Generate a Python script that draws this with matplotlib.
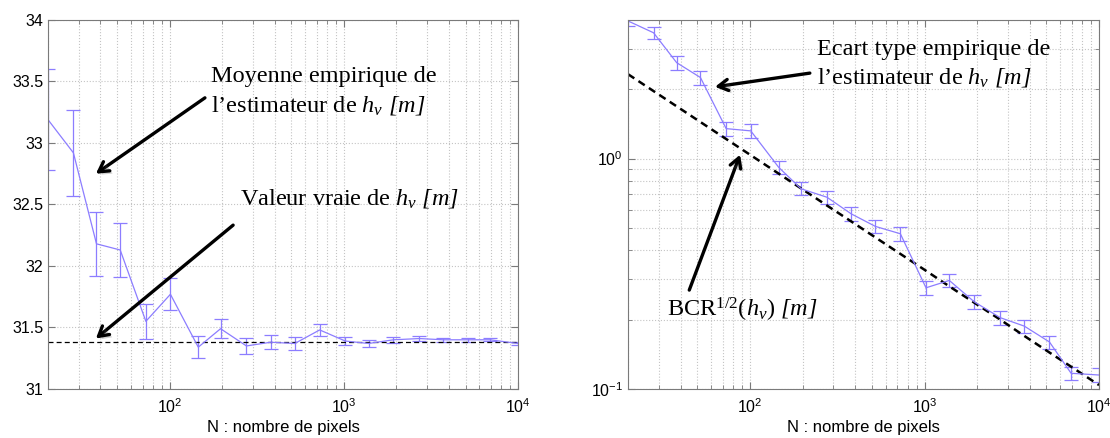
import matplotlib
matplotlib.use("Agg")
import numpy as np
from matplotlib import pyplot as plt
import matplotlib.patheffects as pe
from matplotlib.ticker import NullFormatter

# nombre de pixels (abscisse commune)
n_pixels = [20, 28, 38, 52, 73, 101, 146, 196, 276, 380, 523, 727, 1020,
            1387, 1928, 2717, 3730, 5200, 6920, 10000]

# moyenne empirique de l'estimateur de h_v et barres d'erreur
hv_mean = [33.19, 32.92, 32.18, 32.13, 31.55, 31.77, 31.34, 31.49, 31.35,
           31.38, 31.37, 31.48, 31.39, 31.37, 31.40, 31.41, 31.40, 31.40,
           31.40, 31.37]
hv_err = [0.41, 0.35, 0.26, 0.22, 0.14, 0.13, 0.09, 0.075, 0.065, 0.055,
          0.05, 0.05, 0.03, 0.03, 0.025, 0.02, 0.015, 0.015, 0.012, 0.01]
hv_true = 31.38

# ecart type empirique et BCR^(1/2)
hv_std = [3.96, 3.52, 2.61, 2.25, 1.35, 1.32, 0.917, 0.74, 0.68, 0.576,
          0.508, 0.472, 0.275, 0.296, 0.239, 0.204, 0.1875, 0.160, 0.117,
          0.115]
hv_std_err = [0.2, 0.22, 0.19, 0.16, 0.09, 0.09, 0.057, 0.048, 0.045, 0.04,
              0.034, 0.031, 0.019, 0.02, 0.016, 0.0135, 0.0125, 0.0105,
              0.008, 0.008]
bcr_sqrt = [2.326, 1.965, 1.687, 1.442, 1.217, 1.035, 0.861, 0.743, 0.626,
            0.534, 0.455, 0.386, 0.326, 0.279, 0.237, 0.200, 0.170, 0.144,
            0.125, 0.104]

left_yticks = [31, 31.5, 32, 32.5, 33, 33.5, 34]
left_yticklabels = ["31", "31.5", "32", "32.5", "33", "33.5", "34"]

plt.rcParams['font.family'] = ['Liberation Sans', 'DejaVu Sans']
plt.rcParams['mathtext.fontset'] = 'custom'
plt.rcParams['mathtext.rm'] = 'Liberation Serif'
plt.rcParams['mathtext.it'] = 'Liberation Serif:italic'
# sf sert ici pour avoir les crochets penches de [m]
plt.rcParams['mathtext.sf'] = 'Liberation Serif:italic'

col = '#8c7dff'
grid_kw = dict(color='#c4c4c4', linestyle=':', linewidth=0.8)
serif = dict(family='Liberation Serif', fontsize=17.5)

fig = plt.figure(figsize=(11.1, 4.38), dpi=100)
ax1 = fig.add_axes([0.0432, 0.1119, 0.4234, 0.8425])
ax2 = fig.add_axes([0.5658, 0.1119, 0.4243, 0.8425])

# --- gauche : moyenne ---
ax1.errorbar(n_pixels, hv_mean, yerr=hv_err, color=col, ecolor=col,
             lw=0.9, elinewidth=0.9, capsize=4.7, capthick=0.9)
ax1.axhline(hv_true, color='k', lw=0.9, ls=(0, (4, 2.5)))
ax1.set_xscale('log')
ax1.set_xlim(20, 1e4)
ax1.set_ylim(31, 34)
ax1.set_yticks(left_yticks)
ax1.set_yticklabels(left_yticklabels)
ax1.grid(True, which='major', **grid_kw)
ax1.grid(True, which='minor', axis='x', **grid_kw)

# --- droite : ecart type ---
ax2.errorbar(n_pixels, hv_std, yerr=hv_std_err, color=col, ecolor=col,
             lw=0.9, elinewidth=0.9, capsize=4.7, capthick=0.9)
ax2.plot(n_pixels, bcr_sqrt, color='k', lw=1.8, ls=(0, (3, 2)))
ax2.set_xscale('log')
ax2.set_yscale('log')
ax2.set_xlim(20, 1e4)
ax2.set_ylim(0.1, 4)
ax2.yaxis.set_minor_formatter(NullFormatter())
ax2.grid(True, which='both', **grid_kw)

for ax in (ax1, ax2):
    for s in ax.spines.values():
        s.set_color('#7a7a7a')
    ax.tick_params(which='both', direction='in', colors='#7a7a7a',
                   labelcolor='k', labelsize=11.5, top=True, right=True)
    ax.tick_params(which='major', length=5)
    ax.tick_params(which='minor', length=3)
    ax.tick_params(axis='x', which='major', pad=6)
    ax.xaxis.set_minor_formatter(NullFormatter())
    ax.set_xlabel('N : nombre de pixels', fontsize=12, labelpad=3)

shadow = [pe.SimplePatchShadow(offset=(2, -2), alpha=0.25), pe.Normal()]
arrow_kw = dict(arrowstyle='->,head_length=0.7,head_width=0.4',
                lw=2.4, color='k', shrinkA=0, shrinkB=0,
                path_effects=shadow)

hv_m = r"$h_v$ $\mathsf{[m]}$"

# annotations gauche
ax1.annotate('', xy=(37.7, 32.75), xycoords='data',
             xytext=(0.334, 0.789), textcoords='axes fraction',
             arrowprops=arrow_kw)
ax1.annotate('', xy=(37.7, 31.41), xycoords='data',
             xytext=(0.394, 0.444), textcoords='axes fraction',
             arrowprops=arrow_kw)
ax1.text(0.347, 0.832, 'Moyenne empirique de', transform=ax1.transAxes,
         va='baseline', **serif)
ax1.text(0.347, 0.751, "l’estimateur de " + hv_m,
         transform=ax1.transAxes, va='baseline', **serif)
ax1.text(0.409, 0.500, "Valeur vraie de " + hv_m,
         transform=ax1.transAxes, va='baseline', **serif)

# annotations droite
ax2.annotate('', xy=(63, 2.05), xycoords='data',
             xytext=(0.386, 0.856), textcoords='axes fraction',
             arrowprops=arrow_kw)
ax2.annotate('', xy=(87.7, 1.04), xycoords='data',
             xytext=(0.130, 0.268), textcoords='axes fraction',
             arrowprops=arrow_kw)
ax2.text(0.401, 0.905, 'Ecart type empirique de', transform=ax2.transAxes,
         va='baseline', **serif)
ax2.text(0.401, 0.829, "l’estimateur de " + hv_m,
         transform=ax2.transAxes, va='baseline', **serif)
ax2.text(0.083, 0.195, r"BCR$^{1/2}$($h_v$) $\mathsf{[m]}$",
         transform=ax2.transAxes, va='baseline', **serif)

fig.savefig('out.png', dpi=100)
